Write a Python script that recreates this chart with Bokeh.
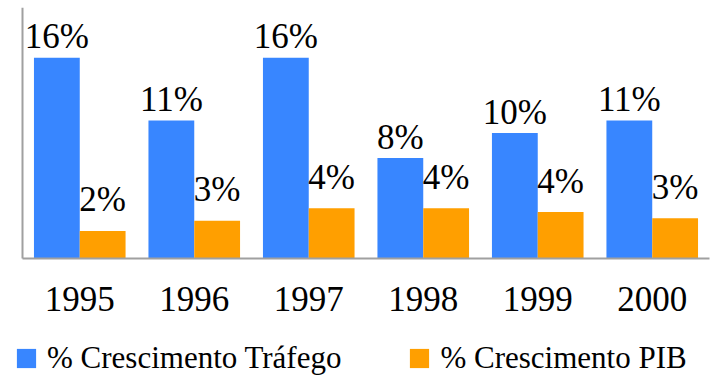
from bokeh.plotting import figure
from bokeh.models import (ColumnDataSource, FactorRange, Range1d, Legend, LegendItem,
                          FixedTicker)
from bokeh.transform import dodge
from bokeh.core.properties import value
from bokeh.embed import file_html
from bokeh.resources import INLINE

# Annual growth (%) of traffic vs. GDP
years = ["1995", "1996", "1997", "1998", "1999", "2000"]
trafego = [16.0, 11.0, 16.0, 8.0, 10.0, 11.0]
pib = [2.2, 3.0, 4.0, 4.0, 3.7, 3.2]

series_names = ["% Crescimento Tráfego", "% Crescimento PIB"]

BLUE = "#3886FF"
ORANGE = "#FF9F00"
AXIS_GREY = "#A0A0A0"
FONT = "'Liberation Serif'"

source = ColumnDataSource(data=dict(
    year=years,
    trafego=trafego,
    pib=pib,
    lab_t=[f"{v:.0f}%" for v in trafego],
    lab_p=[f"{v:.0f}%" for v in pib],
))

# The frame reaches down to the bottom edge so that the legend can live
# inside it; the axes are pinned at x = 0 / y = 0 and limited by bounds.
p = figure(
    width=720, height=376,
    x_range=FactorRange(factors=years, range_padding=0.07, range_padding_units="absolute"),
    y_range=Range1d(-9.40, 20),
    output_backend="svg",
    toolbar_location=None,
    min_border_left=14, min_border_right=3,
    min_border_top=7, min_border_bottom=0,
)
p.outline_line_color = None
p.xgrid.visible = False
p.ygrid.visible = False
p.background_fill_color = "white"
p.border_fill_color = "white"

r_t = p.vbar(x=dodge("year", -0.2, range=p.x_range), top="trafego", width=0.4,
             source=source, fill_color=BLUE, line_color=None)
r_p = p.vbar(x=dodge("year", 0.2, range=p.x_range), top="pib", width=0.4,
             source=source, fill_color=ORANGE, line_color=None)

p.text(x=dodge("year", -0.2, range=p.x_range), y="trafego", text="lab_t", source=source,
       text_align="center", text_baseline="alphabetic", y_offset=-21,
       text_font=value(FONT), text_font_size="35px", text_color="black")
p.text(x=dodge("year", 0.2, range=p.x_range), y="pib", text="lab_p", source=source,
       text_align="center", text_baseline="alphabetic", y_offset=-31,
       text_font=value(FONT), text_font_size="35px", text_color="black")

# axes: plain grey lines, no ticks; years below the baseline
for ax in (p.xaxis[0], p.yaxis[0]):
    ax.axis_line_color = AXIS_GREY
    ax.axis_line_width = 2
    ax.major_tick_line_color = None
    ax.minor_tick_line_color = None
    ax.major_tick_in = 0
    ax.major_tick_out = 0
    ax.minor_tick_in = 0
    ax.minor_tick_out = 0
    ax.fixed_location = 0

p.yaxis.ticker = FixedTicker(ticks=[])
p.yaxis.major_label_standoff = 0
p.yaxis.bounds = (0, 20)

p.xaxis.bounds = (0, len(years))
p.xaxis.major_label_text_font = FONT
p.xaxis.major_label_text_font_size = "35px"
p.xaxis.major_label_text_color = "black"
p.xaxis.major_label_standoff = 28

legend = Legend(
    items=[LegendItem(label=series_names[0], renderers=[r_t]),
           LegendItem(label=series_names[1], renderers=[r_p])],
    orientation="horizontal",
    location=(0, 0),
    glyph_width=24, glyph_height=24,
    label_standoff=9,
    spacing=66,
    padding=0,
    margin=0,
    border_line_color=None,
    background_fill_alpha=0,
    label_text_font=FONT,
    label_text_font_size="31px",
    label_text_color="black",
    label_height=24,
)
p.add_layout(legend, "center")

open("out.html", "w").write(file_html(p, INLINE))
